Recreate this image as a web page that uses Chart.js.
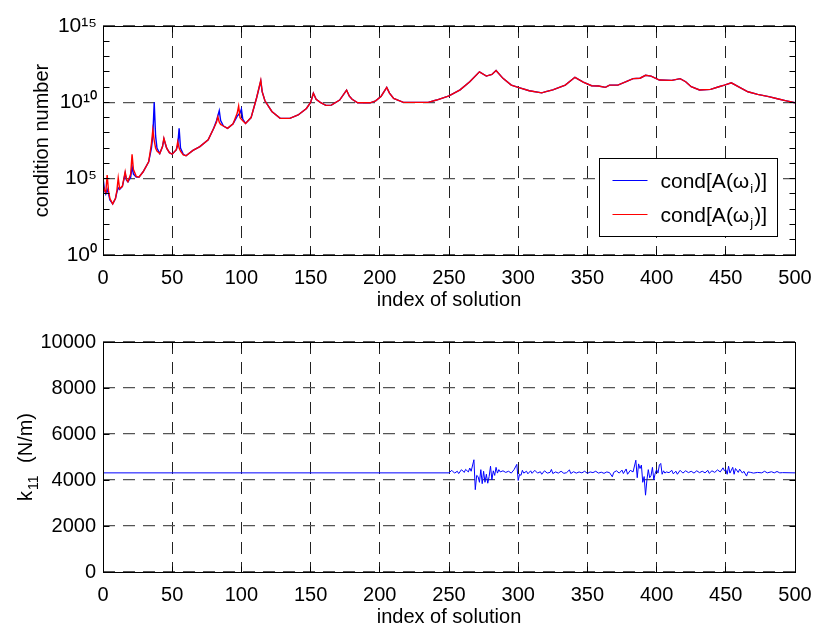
<!DOCTYPE html>
<html><head><meta charset="utf-8">
<script src="https://cdn.jsdelivr.net/npm/chart.js@4"></script>
<style>
html,body{margin:0;padding:0;background:#fff;}
#c1{position:absolute;left:0;top:0;}
#c2{position:absolute;left:0;top:312px;}
</style></head><body>
<canvas id="c1" width="815" height="312"></canvas>
<canvas id="c2" width="815" height="320"></canvas>
<script>
// ---- data (index of solution, log10 of condition number) ----
const condI = [[0,5.1],[1,4.3],[2,4.0],[3,4.3],[4,4.0],[5,3.6],[7,3.35],[9,3.7],[10,4.1],[11,4.4],[12,4.3],[14,4.5],[15,4.9],[16,5.35],[17,4.9],[18,4.8],[20,5.1],[21,5.8],[22,5.3],[24,5.1],[26,5.1],[29,5.45],[33,6.1],[35,7.0],[36,7.8],[37,10.0],[38,7.8],[39,7.0],[41,6.65],[43,7.1],[44,7.6],[46,7.0],[48,6.7],[50,6.6],[53,6.9],[54,7.2],[55,8.3],[56,7.0],[58,6.6],[60,6.5],[65,6.85],[70,7.1],[76,7.55],[80,8.3],[82,8.8],[84,9.45],[85,8.8],[87,8.45],[90,8.3],[94,8.6],[97,9.1],[99,9.3],[100,9.55],[101,8.9],[103,8.62],[107,9.0],[111,10.3],[114,11.4],[115,10.7],[117,10.1],[122,9.4],[128,8.95],[135,8.95],[141,9.17],[147,9.6],[150,10.0],[152,10.6],[154,10.2],[157,10.0],[161,9.8],[165,9.82],[171,10.15],[176,10.8],[178,10.4],[180,10.2],[184,9.97],[193,9.97],[197,10.1],[201,10.4],[205,10.98],[207,10.6],[210,10.25],[217,10.0],[235,10.0],[241,10.15],[250,10.42],[258,10.82],[265,11.35],[272,12.0],[277,11.72],[281,11.83],[284,12.08],[289,11.57],[295,11.13],[300,10.98],[308,10.76],[317,10.62],[320,10.7],[325,10.82],[334,11.13],[341,11.64],[347,11.33],[353,11.09],[358,11.07],[363,10.98],[366,11.13],[372,11.13],[378,11.35],[383,11.55],[388,11.58],[392,11.77],[396,11.72],[402,11.46],[411,11.44],[417,11.55],[421,11.35],[425,11.02],[431,10.81],[439,10.85],[445,11.02],[449,11.13],[454,11.28],[460,10.98],[466,10.69],[473,10.52],[481,10.37],[488,10.22],[493,10.11],[500,9.97]];
const condJ = [[0,4.6],[1,4.25],[2,4.1],[3,5.24],[4,4.2],[5,3.7],[7,3.35],[9,3.7],[10,4.2],[11,5.05],[12,4.35],[14,4.5],[16,5.45],[17,4.95],[18,4.8],[20,5.3],[21,6.6],[22,5.6],[24,5.15],[26,5.1],[29,5.45],[33,6.1],[35,7.3],[36,8.2],[37,7.5],[38,7.0],[39,6.8],[41,6.65],[43,7.1],[44,7.65],[46,7.0],[48,6.7],[50,6.6],[53,6.9],[54,7.42],[55,7.0],[56,6.8],[58,6.55],[60,6.5],[65,6.85],[70,7.1],[76,7.55],[80,8.3],[82,8.7],[83,9.05],[84,8.7],[85,8.55],[87,8.45],[90,8.3],[94,8.6],[97,9.3],[98,9.76],[99,9.0],[101,8.8],[103,8.62],[107,9.0],[111,10.3],[114,11.45],[115,10.7],[117,10.1],[122,9.4],[128,8.95],[135,8.95],[141,9.17],[147,9.6],[150,10.0],[152,10.6],[154,10.2],[157,10.0],[161,9.8],[165,9.82],[171,10.15],[176,10.8],[178,10.4],[180,10.2],[184,9.97],[193,9.97],[197,10.1],[201,10.4],[205,10.98],[207,10.6],[210,10.25],[217,10.0],[235,10.0],[241,10.15],[250,10.42],[258,10.82],[265,11.35],[272,12.0],[277,11.72],[281,11.83],[284,12.08],[289,11.57],[295,11.13],[300,10.98],[308,10.76],[317,10.62],[320,10.7],[325,10.82],[334,11.13],[341,11.64],[347,11.33],[353,11.09],[358,11.07],[363,10.98],[366,11.13],[372,11.13],[378,11.35],[383,11.55],[388,11.58],[392,11.77],[396,11.72],[402,11.46],[411,11.44],[417,11.55],[421,11.35],[425,11.02],[431,10.81],[439,10.85],[445,11.02],[449,11.13],[454,11.28],[460,10.98],[466,10.69],[473,10.52],[481,10.37],[488,10.22],[493,10.11],[500,9.97]];
// k11 (N/m) versus index of solution
const k11 = [[0,4310],[250,4310],[252,4420],[254,4300],[256,4380],[257,4280],[259,4450],[261,4330],[262,4460],[264,4350],[265,4520],[266,4380],[268,4880],[269,3580],[270,4200],[271,4150],[272,3900],[273,4450],[274,3840],[275,4380],[276,3900],[277,4250],[278,3860],[279,4150],[280,4600],[281,4000],[282,4400],[283,4200],[284,4550],[285,4300],[286,4450],[287,4350],[289,4400],[291,4330],[293,4380],[295,4300],[297,4450],[299,4680],[300,3980],[301,4250],[302,4200],[303,4420],[304,4300],[306,4380],[307,4270],[309,4400],[310,4290],[312,4420],[314,4300],[316,4360],[317,4250],[319,4400],[321,4300],[323,4330],[324,4460],[325,4280],[327,4350],[329,4300],[331,4380],[333,4290],[335,4320],[337,4440],[338,4280],[340,4360],[342,4300],[344,4350],[346,4310],[348,4380],[350,4290],[352,4350],[354,4320],[356,4380],[358,4300],[360,4340],[362,4290],[364,4350],[366,4320],[368,4140],[369,4330],[371,4400],[373,4300],[375,4430],[376,4280],[378,4480],[379,4250],[381,4420],[383,4350],[385,4860],[386,4100],[387,4700],[388,4500],[389,4650],[390,3900],[391,4150],[392,3340],[393,4000],[394,4450],[395,4100],[396,4200],[397,4550],[398,4000],[399,4300],[400,4450],[401,4300],[402,4650],[403,4720],[404,4250],[405,4400],[406,4300],[407,4350],[409,4320],[411,4420],[412,4270],[414,4380],[415,4250],[417,4420],[419,4300],[421,4400],[423,4320],[425,4380],[427,4300],[429,4400],[431,4320],[433,4380],[435,4310],[437,4420],[438,4290],[440,4400],[442,4330],[444,4440],[446,4350],[448,4530],[449,4400],[450,4450],[451,4250],[452,4600],[453,4300],[455,4550],[456,4250],[457,4500],[459,4330],[460,4470],[462,4300],[463,4380],[465,4170],[466,4350],[468,4330],[470,4300],[473,4330],[476,4310],[478,4380],[480,4310],[483,4360],[485,4310],[487,4370],[489,4310],[491,4320],[500,4310]];

const xTickValues = [0,50,100,150,200,250,300,350,400,450,500];
const topYExponents = [0,5,10,15];
const topYTickLabels = ['10\u2070','10\u2075','10\u00B9\u2070','10\u00B9\u2075'];
const topYMinorExponents = [0,1,2,3,4,5,6,7,8,9,10,11,12,13,14,15];
const bottomYTicks = [0,2000,4000,6000,8000,10000];
const bottomYTickLabels = ['0','2000','4000','6000','8000','10000'];
const legendLabels = [['cond[A(\u03C9','i',')]'],['cond[A(\u03C9','j',')]']];
const bottomYTitle = ['k','11',' (N/m)'];
const seriesColors = ['rgb(0,0,255)','rgb(255,0,0)'];

const FONT = "'Liberation Sans', Arial, Helvetica, sans-serif";
Chart.defaults.font.family = FONT;
Chart.defaults.font.size = 20;
Chart.defaults.color = '#000';

function align(p){ return Math.round(p - 0.5) + 0.5; }

const framePlugin = {
  id: 'frame',
  afterDraw(chart, args, o) {
    const ctx = chart.ctx, xs = chart.scales.x, ys = chart.scales.y;
    const L = align(xs.left), R = align(xs.right);
    const T = align(ys.top), B = align(ys.bottom);
    ctx.save();
    ctx.strokeStyle = '#000'; ctx.lineWidth = 1; ctx.setLineDash([]);
    ctx.beginPath();
    for (const v of o.xValues) { const p = align(xs.getPixelForValue(v)); ctx.moveTo(p,B); ctx.lineTo(p,B-6); ctx.moveTo(p,T); ctx.lineTo(p,T+6); }
    for (const v of o.yValues) { const p = align(ys.getPixelForValue(v)); ctx.moveTo(L,p); ctx.lineTo(L+6,p); ctx.moveTo(R,p); ctx.lineTo(R-6,p); }
    ctx.stroke();
    ctx.strokeRect(L, T, R-L, B-T);
    ctx.restore();
  }
};

const legendPlugin = {
  id: 'boxLegend',
  afterDraw(chart) {
    const a = chart.chartArea, ctx = chart.ctx;
    const bx = align(a.right - 196), by = align(a.bottom - 97), bw = 178, bh = 78;
    ctx.save();
    ctx.fillStyle = '#fff'; ctx.fillRect(bx, by, bw, bh);
    ctx.strokeStyle = '#000'; ctx.lineWidth = 1; ctx.setLineDash([]);
    ctx.strokeRect(bx, by, bw, bh);
    const rows = [22, 56];
    legendLabels.forEach((lab, i) => {
      const y = by + rows[i];
      ctx.strokeStyle = seriesColors[i]; ctx.lineWidth = 1.2;
      ctx.beginPath(); ctx.moveTo(bx+13, y); ctx.lineTo(bx+48, y); ctx.stroke();
      ctx.fillStyle = '#000'; ctx.textBaseline = 'alphabetic'; ctx.textAlign = 'left';
      let x = bx + 61; const base = y + 7;
      ctx.font = '21px ' + FONT; ctx.fillText(lab[0], x, base); x += ctx.measureText(lab[0]).width + 1;
      ctx.font = '13px ' + FONT; ctx.fillText(lab[1], x, base + 5); x += ctx.measureText(lab[1]).width + 1;
      ctx.font = '21px ' + FONT; ctx.fillText(lab[2], x, base);
    });
    ctx.restore();
  }
};

// rotated y-axis title with a true subscript (bottom chart)
const yTitlePlugin = {
  id: 'subTitle',
  afterDraw(chart) {
    const ctx = chart.ctx, ys = chart.scales.y;
    const big = '20px ' + FONT, small = '14px ' + FONT;
    ctx.save();
    ctx.font = big; const w0 = ctx.measureText(bottomYTitle[0]).width, w2 = ctx.measureText(bottomYTitle[2]).width;
    ctx.font = small; const w1 = ctx.measureText(bottomYTitle[1]).width + 2;
    const total = w0 + w1 + w2 + 6;
    const cy = (ys.top + ys.bottom) / 2;
    ctx.translate(32, cy + total / 2);
    ctx.rotate(-Math.PI / 2);
    ctx.fillStyle = '#000'; ctx.textBaseline = 'alphabetic'; ctx.textAlign = 'left';
    ctx.font = big; ctx.fillText(bottomYTitle[0], 0, 0);
    ctx.font = small; ctx.fillText(bottomYTitle[1], w0 + 1, 6);
    ctx.font = big; ctx.fillText(bottomYTitle[2], w0 + w1 + 6, 0);
    ctx.restore();
  }
};

const xAxis = (h, pb) => ({
  type: 'linear', min: 0, max: 500,
  afterFit: s => { s.height = h; s.paddingLeft = 0; s.paddingRight = 0; },
  afterBuildTicks: s => { s.ticks = xTickValues.map(v => ({value: v})); },
  ticks: { autoSkip: false, maxRotation: 0, padding: 11, color: '#000' },
  grid: { color: '#222', lineWidth: 1, drawTicks: false },
  border: { display: false, dash: [12, 8] },
  title: { display: true, text: 'index of solution', color: '#000', font: {size: 20}, padding: {top: 0, bottom: pb} }
});

new Chart(document.getElementById('c1'), {
  type: 'line',
  data: {
    datasets: [
      { label: 'cond[A(ωi)]', data: condI.map(p => ({x: p[0], y: Math.pow(10, p[1])})), borderColor: seriesColors[0], borderWidth: 1.4, pointRadius: 0, tension: 0, order: 1 },
      { label: 'cond[A(ωj)]', data: condJ.map(p => ({x: p[0], y: Math.pow(10, p[1])})), borderColor: seriesColors[1], borderWidth: 1.4, pointRadius: 0, tension: 0, order: 0 }
    ]
  },
  options: {
    responsive: false, animation: false, devicePixelRatio: 1,
    layout: { padding: { left: 0, right: 20, top: 26, bottom: 0 } },
    plugins: { legend: { display: false }, tooltip: { enabled: false },
      frame: { xValues: xTickValues, yValues: topYMinorExponents.map(e => Math.pow(10, e)) } },
    scales: {
      x: xAxis(57, 0),
      y: {
        type: 'logarithmic', min: 1, max: 1e15,
        afterFit: s => { s.width = 103; },
        afterBuildTicks: s => { s.ticks = topYExponents.map(e => ({value: Math.pow(10, e)})); },
        ticks: { autoSkip: false, padding: 6, color: '#000', font: {size: 21},
          callback: v => topYTickLabels[topYExponents.indexOf(Math.round(Math.log10(v)))] },
        grid: { color: '#555', lineWidth: 1.2, drawTicks: false },
        border: { display: false, dash: [12, 8] },
        title: { display: true, text: 'condition number', color: '#000', font: {size: 20}, padding: {top: 30, bottom: 0} }
      }
    }
  },
  plugins: [framePlugin, legendPlugin]
});

new Chart(document.getElementById('c2'), {
  type: 'line',
  data: {
    datasets: [
      { label: 'k11', data: k11.map(p => ({x: p[0], y: p[1]})), borderColor: seriesColors[0], borderWidth: 1, pointRadius: 0, tension: 0 }
    ]
  },
  options: {
    responsive: false, animation: false, devicePixelRatio: 1,
    layout: { padding: { left: 0, right: 20, top: 30, bottom: 0 } },
    plugins: { legend: { display: false }, tooltip: { enabled: false },
      frame: { xValues: xTickValues, yValues: bottomYTicks } },
    scales: {
      x: xAxis(60, 3),
      y: {
        type: 'linear', min: 0, max: 10000,
        afterFit: s => { s.width = 103; },
        afterBuildTicks: s => { s.ticks = bottomYTicks.map(v => ({value: v})); },
        ticks: { autoSkip: false, padding: 7, color: '#000',
          callback: v => bottomYTickLabels[bottomYTicks.indexOf(v)] },
        grid: { color: '#555', lineWidth: 1.2, drawTicks: false },
        border: { display: false, dash: [12, 8] },
        title: { display: false }
      }
    }
  },
  plugins: [framePlugin, yTitlePlugin]
});
</script>
</body></html>
